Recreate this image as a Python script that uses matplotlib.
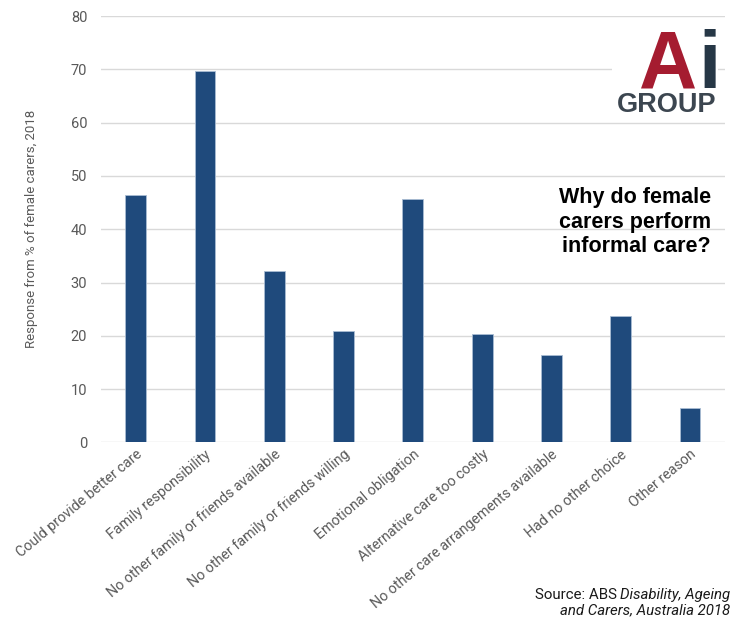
import matplotlib
matplotlib.use("Agg")
import matplotlib.pyplot as plt
from matplotlib.patches import Rectangle

# Data
categories = [
    "Could provide better care",
    "Family responsibility",
    "No other family or friends available",
    "No other family or friends willing",
    "Emotional obligation",
    "Alternative care too costly",
    "No other care arrangements available",
    "Had no other choice",
    "Other reason",
]
values = [46.4, 69.7, 32.2, 20.9, 45.7, 20.4, 16.5, 23.7, 6.5]
y_ticks = [0, 10, 20, 30, 40, 50, 60, 70, 80]

bar_color = "#1f4a7c"
grey_text = "#595959"
grid_color = "#d9d9d9"

plt.rcParams["font.family"] = ["Roboto", "DejaVu Sans"]

fig = plt.figure(figsize=(7.32, 6.18), dpi=100)
ax = fig.add_axes([0.138, 0.284, 0.852, 0.69])

x = list(range(len(categories)))
ax.bar(x, values, width=0.3, color=bar_color, edgecolor="#a9bcd3", linewidth=0.6, zorder=3)

ax.set_xlim(-0.5, len(categories) - 0.5)
ax.set_ylim(0, 80)
ax.set_yticks(y_ticks)
ax.yaxis.grid(True, color=grid_color, linewidth=1.0, zorder=0)
for s in ax.spines.values():
    s.set_visible(False)
ax.tick_params(axis="both", length=0, labelsize=10.5, labelcolor=grey_text)
ax.tick_params(axis="y", pad=10)
ax.set_xticks(x)
ax.set_xticklabels(categories, rotation=40, ha="right", va="top",
                   rotation_mode="anchor", fontsize=10.3, color=grey_text)
ax.set_ylabel("Response from % of female carers, 2018", fontsize=9.5,
              color=grey_text)
ax.yaxis.set_label_coords(-0.101, 0.5)

# chart title inside the plot
fig.text(711 / 732, 1 - 222 / 618, "Why do female\ncarers perform\ninformal care?",
         ha="right", va="center", fontsize=15.5, fontweight="bold",
         family=["Liberation Sans", "DejaVu Sans"], color="black", linespacing=1.2)

# logo block (white box over gridlines)
fig.patches.append(Rectangle((612 / 732, 1 - 118 / 618), 106 / 732, 96 / 618,
                             transform=fig.transFigure, facecolor="white",
                             edgecolor="none", zorder=5))
fig.text(697 / 732, 1 - 88 / 618, "A", ha="right", va="baseline", fontsize=58,
         fontweight="bold", color="#a51c30", family=["Liberation Sans"], zorder=6)
fig.text(698 / 732, 1 - 88 / 618, "i", ha="left", va="baseline", fontsize=58,
         fontweight="bold", color="#263746", family=["Liberation Sans"], zorder=6)
fig.text(667 / 732, 1 - 112 / 618, "GROUP", ha="center", va="baseline", fontsize=19.5,
         fontweight="bold", color="#3c4650", family=["Liberation Sans"], zorder=6)

# source note with italic title
fig.canvas.draw()
renderer = fig.canvas.get_renderer()
src_font = dict(fontsize=10.8, family=["Roboto", "DejaVu Sans"], color="#1a1a1a")
t_it = fig.text(730 / 732, 1 - 599 / 618, "Disability, Ageing", ha="right",
                va="baseline", style="italic", **src_font)
bb = t_it.get_window_extent(renderer=renderer)
fig.text(bb.x0 / fig.bbox.width - 0.004, 1 - 599 / 618, "Source: ABS", ha="right",
         va="baseline", **src_font)
fig.text(730 / 732, 1 - 614 / 618, "and Carers, Australia 2018", ha="right",
         va="baseline", style="italic", **src_font)

fig.savefig("out.png", dpi=100)
